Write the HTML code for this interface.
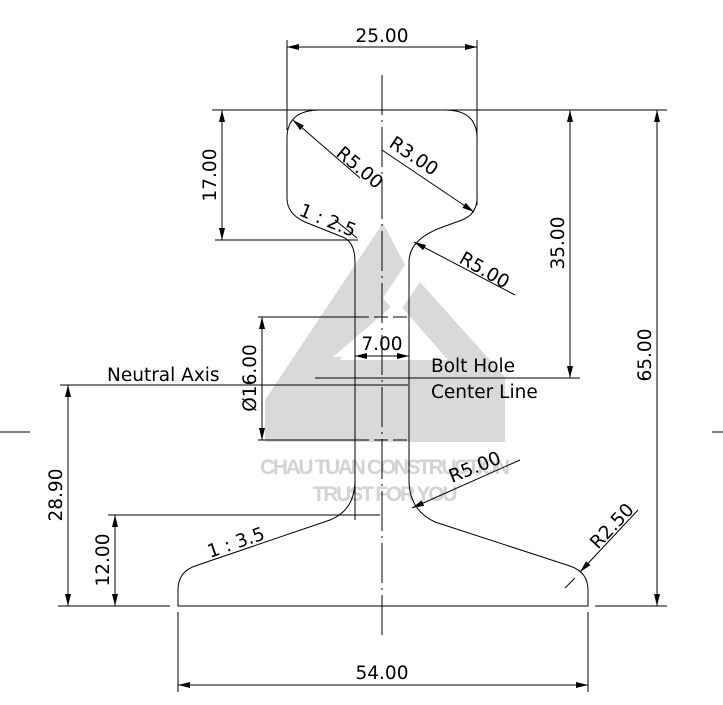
<!DOCTYPE html>
<html><head><meta charset="utf-8"><style>
html,body{margin:0;padding:0;background:#fff;}
svg{display:block;}
text{font-family:"DejaVu Sans","Liberation Sans",sans-serif;font-size:18.5px;fill:#000;}
</style></head><body>
<svg width="723" height="705" viewBox="0 0 723 705" xmlns="http://www.w3.org/2000/svg">
<defs>
<marker id="a" viewBox="0 0 12 6" refX="12" refY="3" markerWidth="12" markerHeight="6" orient="auto-start-reverse" markerUnits="userSpaceOnUse"><path d="M0,0 L12,3 L0,6 z" fill="#000"/></marker>
</defs>
<g fill="#d9d9d9">
<polygon points="383,223 265,400 265,442 505,442 505,377 420,282 400,305 448,360 340,360 383,298 405,265"/>
<polygon points="330,355 383,298 395,312"/>
</g>
<polygon points="420,282 333,357 412,357 383,336" fill="#fff"/>
<text x="385" y="474" text-anchor="middle" textLength="250" style="font-size:21px;font-weight:bold;fill:#d3d3d3;font-family:'Liberation Sans Narrow','Liberation Sans',sans-serif">CHAU TUAN CONSTRUCTION</text>
<text x="385" y="501" text-anchor="middle" textLength="145" style="font-size:21px;font-weight:bold;fill:#d3d3d3;font-family:'Liberation Sans Narrow','Liberation Sans',sans-serif">TRUST FOR YOU</text>

<g fill="none" stroke="#000" stroke-width="1">
<path d="M355,520 L355,262 Q355,240 340,236 L305,222 Q287,214 287,198 L287,138 Q287,110 320,110 L445,110 Q477,110 477,138 L477,198 Q477,214 462,220 L440,228 Q409,240 409,262 L409,480 Q409,510 435,522 L570,566 Q588,572 588,590 L588,606 L178,606 L178,590 Q178,572 195,566 L330,520 Q355,510 355,480"/>
<line x1="382" y1="75" x2="382" y2="640" stroke-dasharray="40,5,2,5"/>
<line x1="287" y1="40" x2="287" y2="130"/>
<line x1="477" y1="40" x2="477" y2="205"/>
<line x1="287" y1="47" x2="477" y2="47" marker-start="url(#a)" marker-end="url(#a)"/>
<line x1="212" y1="110" x2="667" y2="110"/>
<line x1="215" y1="240" x2="358" y2="240"/>
<line x1="222" y1="110" x2="222" y2="240" marker-start="url(#a)" marker-end="url(#a)"/>
<line x1="315" y1="378" x2="580" y2="378"/>
<line x1="570" y1="110" x2="570" y2="378" marker-start="url(#a)" marker-end="url(#a)"/>
<line x1="657" y1="110" x2="657" y2="606" marker-start="url(#a)" marker-end="url(#a)"/>
<line x1="595" y1="606" x2="667" y2="606"/>
<line x1="60" y1="385" x2="408" y2="385"/>
<line x1="68" y1="385" x2="68" y2="606" marker-start="url(#a)" marker-end="url(#a)"/>
<line x1="58" y1="606" x2="170" y2="606"/>
<line x1="108" y1="515" x2="380" y2="515"/>
<line x1="115" y1="515" x2="115" y2="606" marker-start="url(#a)" marker-end="url(#a)"/>
<line x1="258" y1="317" x2="355" y2="317"/><line x1="355" y1="317" x2="409" y2="317" stroke-dasharray="14,5"/>
<line x1="258" y1="440" x2="355" y2="440"/><line x1="355" y1="440" x2="409" y2="440" stroke-dasharray="14,5"/>
<line x1="262" y1="317" x2="262" y2="440" marker-start="url(#a)" marker-end="url(#a)"/>
<line x1="355" y1="356" x2="409" y2="356" marker-start="url(#a)" marker-end="url(#a)"/>
<line x1="0" y1="432" x2="30" y2="432"/><line x1="712" y1="432" x2="723" y2="432"/>
<line x1="178" y1="612" x2="178" y2="692"/><line x1="588" y1="612" x2="588" y2="692"/>
<line x1="178" y1="685" x2="588" y2="685" marker-start="url(#a)" marker-end="url(#a)"/>
<line x1="293" y1="120" x2="360" y2="178" marker-start="url(#a)"/>
<line x1="382" y1="150" x2="474" y2="212" marker-end="url(#a)"/>
<line x1="414" y1="242" x2="515" y2="295" marker-start="url(#a)"/>
<line x1="412" y1="508" x2="520" y2="460" marker-start="url(#a)"/>
<line x1="580" y1="572" x2="638" y2="510" marker-start="url(#a)"/>
<line x1="575" y1="578" x2="565" y2="588"/>
<line x1="335" y1="220" x2="357" y2="238"/>
</g>
<text x="382" y="42" text-anchor="middle">25.00</text>
<text transform="translate(216,175) rotate(-90)" text-anchor="middle">17.00</text>
<text transform="translate(564,243) rotate(-90)" text-anchor="middle">35.00</text>
<text transform="translate(651,355) rotate(-90)" text-anchor="middle">65.00</text>
<text transform="translate(62,495) rotate(-90)" text-anchor="middle">28.90</text>
<text transform="translate(109,560) rotate(-90)" text-anchor="middle">12.00</text>
<text transform="translate(256,378) rotate(-90)" text-anchor="middle">Ø16.00</text>
<text x="382" y="350" text-anchor="middle">7.00</text>
<text x="382" y="679" text-anchor="middle">54.00</text>
<text x="107" y="381">Neutral Axis</text>
<text x="431" y="372">Bolt Hole</text>
<text x="431" y="398">Center Line</text>
<text transform="translate(335,155) rotate(40)">R5.00</text>
<text transform="translate(388,146) rotate(34)">R3.00</text>
<text transform="translate(458,262) rotate(30)">R5.00</text>
<text transform="translate(452,483) rotate(-22)">R5.00</text>
<text transform="translate(598,550) rotate(-47)">R2.50</text>
<text transform="translate(298,215) rotate(22)">1 : 2.5</text>
<text transform="translate(210,558) rotate(-19)">1 : 3.5</text>
</svg>
</body></html>
